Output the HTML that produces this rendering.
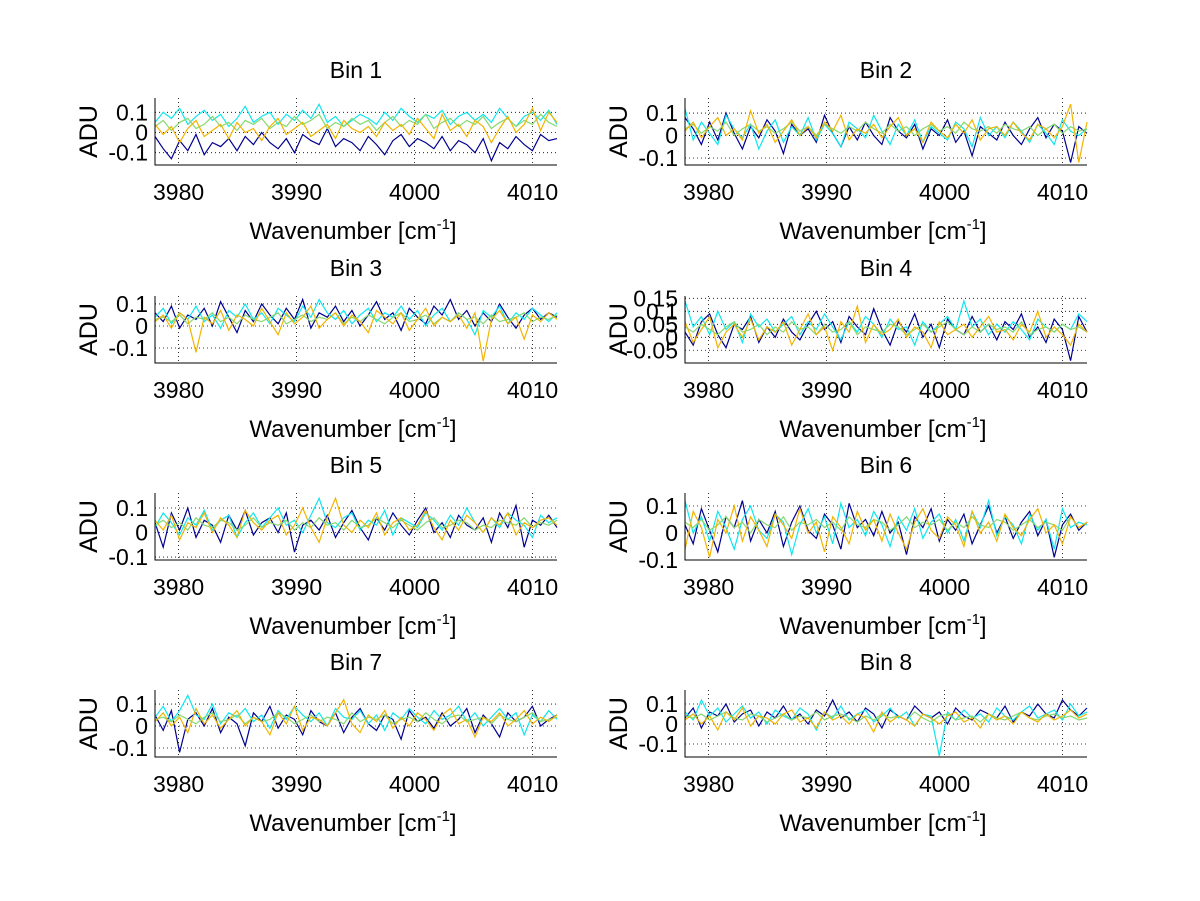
<!DOCTYPE html>
<html><head><meta charset="utf-8"><style>
html,body{margin:0;padding:0;background:#fff;}
svg{display:block;font-family:"Liberation Sans",sans-serif;}
</style></head><body>
<svg id="fig" width="1200" height="901" viewBox="0 0 1200 901" xmlns="http://www.w3.org/2000/svg"></svg>
<script>
const xTicks=[3980,3990,4000,4010];
const seriesNames=['navy','cyan','green','orange'];
const seriesColors=['#000090','#10e6ee','#86d870','#f2b400'];
const bin1Navy=[-2,-8,-13,-4,-9,-1,-11,-5,-7,-3,-9,-2,-6,0,-5,-8,-3,-10,-1,-4,-6,2,-7,-3,-5,-9,-2,-6,-11,-4,-1,-7,-3,-5,-8,-2,-9,-4,-6,-10,-3,-14,-5,-8,-2,-6,-9,-1,-4,-3];
const bin1Cyan=[5,10,7,12,4,8,11,6,9,3,7,13,5,8,10,4,9,6,11,7,14,5,8,3,6,9,7,4,10,6,12,8,5,9,7,11,4,8,10,6,9,5,12,7,3,8,10,6,11,4];
const bin1Green=[3,6,1,5,7,2,4,8,3,5,1,6,4,7,2,5,3,8,4,6,9,2,5,3,7,4,6,1,5,8,3,6,4,9,2,5,7,3,6,4,8,2,5,7,3,6,4,9,5,3];
const bin1Orange=[4,-1,3,-5,2,6,-2,1,4,-3,5,0,2,-4,3,7,-1,2,5,-2,1,4,-3,6,2,0,3,-2,5,1,4,-1,7,2,-3,9,1,4,-2,6,3,-5,2,8,0,4,12,1,10,5];
const bin2Navy=[8,3,-4,6,-2,10,1,-6,4,-1,7,2,-8,5,0,3,-3,9,1,-5,4,-2,6,0,-4,8,2,-1,5,-6,3,0,7,-3,2,-9,4,1,-2,6,0,-4,3,8,-1,5,2,-12,4,1];
const bin2Cyan=[12,-2,6,1,-4,9,3,-1,5,-6,2,7,-3,4,0,8,-2,5,1,-5,6,3,-1,9,2,-4,5,0,7,-3,4,1,-2,6,3,-5,8,0,4,-1,6,2,-3,5,1,-4,7,2,0,3];
const bin2Green=[3,5,1,4,2,6,0,3,5,2,4,1,3,6,2,4,0,5,3,1,4,2,6,3,1,5,2,4,0,3,5,2,4,1,6,3,2,4,1,5,3,2,4,0,3,5,1,4,2,3];
const bin2Orange=[2,6,-1,4,8,0,3,-2,11,1,5,-3,2,7,0,4,-1,6,2,9,-2,3,1,5,-1,4,8,0,3,-3,6,2,-1,5,1,7,-2,3,4,0,6,1,-2,5,3,-1,4,14,-12,6];
const bin3Navy=[6,2,9,-1,5,3,8,0,11,4,-3,7,2,10,5,1,8,3,12,-1,6,4,9,2,7,0,5,11,3,6,-2,8,4,1,9,5,12,3,7,0,6,2,10,4,-1,5,8,3,6,4];
const bin3Cyan=[4,8,1,6,3,9,2,5,-1,7,4,10,3,6,1,8,5,2,9,4,12,6,3,7,1,5,8,2,6,4,9,3,7,0,5,8,2,6,3,-4,7,4,9,1,6,3,8,5,2,6];
const bin3Green=[3,4,2,5,1,4,3,6,2,4,1,5,3,2,4,6,1,3,5,2,4,3,6,1,4,2,5,3,1,4,6,2,3,5,1,4,2,6,3,4,1,5,2,3,4,6,2,4,3,5];
const bin3Orange=[2,5,-1,6,3,-12,4,1,7,-2,5,3,0,8,2,-4,6,1,4,9,-1,3,6,0,5,2,-3,7,4,1,6,-2,3,8,0,4,2,5,-1,6,-16,3,7,1,4,-6,5,2,6,3];
const bin4Navy=[2,-3,6,9,1,-4,5,3,8,-2,4,0,7,2,-1,5,10,3,6,-2,8,4,1,11,3,-3,6,2,9,0,5,-4,7,3,1,8,2,5,-1,6,3,9,0,4,-2,7,3,-9,8,2];
const bin4Cyan=[14,4,8,1,10,3,6,-2,9,4,7,2,5,8,1,6,3,9,4,-1,6,2,8,5,0,7,3,4,-3,6,2,5,8,3,14,4,7,1,5,2,6,3,-1,7,4,2,5,3,9,6];
const bin4Green=[4,2,5,3,1,4,6,2,3,5,1,4,2,6,3,4,1,5,2,3,6,1,4,3,2,5,4,1,3,5,2,4,6,3,1,4,2,5,3,4,2,6,1,3,4,2,5,3,4,2];
const bin4Orange=[6,-2,3,8,-4,2,5,0,7,-1,4,2,6,-3,3,9,1,4,-5,6,2,12,-2,5,1,3,7,0,4,2,-4,6,1,3,5,0,4,8,2,3,-1,5,2,10,0,4,1,-3,5,2];
const bin5Navy=[4,-6,8,1,10,-2,5,3,-4,7,1,9,-1,4,6,0,8,-8,3,5,1,7,-2,4,9,2,-3,6,1,8,3,-1,5,10,0,4,-2,7,3,1,6,-4,8,2,11,-6,5,3,7,2];
const bin5Cyan=[2,8,4,-1,6,3,9,1,5,7,-2,4,8,2,6,10,3,5,0,7,14,4,2,6,8,1,5,3,9,-1,6,4,2,8,5,1,7,3,10,4,0,6,2,8,5,3,-2,7,4,6];
const bin5Green=[3,5,2,4,1,6,3,2,5,4,1,3,6,2,4,3,5,1,4,2,6,3,4,1,5,2,3,6,4,2,5,3,1,4,6,2,3,5,4,1,3,2,5,4,3,6,2,4,3,5];
const bin5Orange=[5,1,7,-3,4,2,8,0,6,3,-2,9,4,1,5,7,-1,3,10,2,-4,6,14,3,0,5,2,8,-1,4,6,1,3,9,2,-3,5,1,7,4,0,6,3,8,-1,4,2,5,6,3];
const bin6Navy=[3,-4,9,1,-7,6,2,12,-3,5,0,8,-5,4,10,1,-2,7,3,-6,11,2,5,-1,8,0,4,-8,6,2,9,-3,5,1,7,-4,3,10,0,6,-2,4,8,-1,5,-9,3,7,1,4];
const bin6Cyan=[12,0,6,-3,8,2,-6,5,10,1,-2,7,4,-8,3,9,0,6,-4,11,2,5,-1,8,3,-5,6,1,9,-2,4,7,0,5,-3,8,2,12,-1,6,3,-4,7,1,5,-6,9,2,4,3];
const bin6Green=[4,2,5,1,3,6,2,4,0,5,3,2,6,1,4,3,5,2,4,1,6,3,2,5,4,1,3,6,2,4,3,5,1,4,2,6,3,2,5,4,1,3,5,2,4,3,1,6,2,4];
const bin6Orange=[-6,8,2,-9,5,0,10,-3,6,1,-5,7,3,-2,9,0,4,-7,6,2,-4,8,1,5,-3,7,0,-6,4,9,1,-2,6,3,-5,8,0,4,-3,7,2,-1,5,9,0,3,-4,6,2,4];
const bin7Navy=[5,-2,7,-12,3,6,0,8,-3,4,1,-9,6,2,9,-1,5,3,-4,7,2,0,6,-3,4,8,1,-2,5,3,-6,7,2,4,-1,6,0,3,8,-3,5,1,-5,6,2,4,9,0,3,5];
const bin7Cyan=[4,9,2,7,14,5,3,10,1,6,4,8,2,5,-1,7,3,9,5,2,6,0,8,4,3,7,1,5,-2,6,3,8,4,1,7,3,5,9,2,6,0,4,8,3,6,-4,5,2,7,3];
const bin7Green=[3,4,2,5,3,1,4,6,2,3,5,1,4,2,3,6,4,1,3,5,2,4,3,1,6,2,4,3,5,1,3,4,2,6,3,1,4,5,2,3,4,1,5,3,2,4,6,2,3,4];
const bin7Orange=[2,6,0,4,-3,8,1,5,-1,3,7,0,4,2,-4,6,1,9,-2,4,3,0,6,12,1,-3,5,2,7,-1,4,0,6,3,-2,5,8,1,3,-5,4,2,6,0,3,7,1,4,2,5];
const bin8Navy=[3,8,-2,6,4,10,1,5,7,-1,6,3,9,2,5,0,7,4,12,3,6,1,8,5,-2,7,4,2,9,5,3,6,0,8,4,2,7,5,3,9,1,6,4,10,5,3,12,7,4,8];
const bin8Cyan=[6,2,12,4,8,1,5,9,3,6,0,7,4,2,8,5,-3,6,3,9,2,5,7,1,4,8,3,6,-1,5,4,-16,6,2,7,3,5,1,8,4,2,6,9,3,5,7,2,10,4,6];
const bin8Green=[4,3,5,2,4,6,3,2,5,4,1,3,5,2,4,3,6,2,4,5,3,1,4,2,5,3,4,2,6,3,1,4,5,2,3,4,1,5,3,2,4,6,3,2,4,5,3,4,2,3];
const bin8Orange=[2,5,0,4,-3,6,2,8,-1,4,3,0,5,7,1,3,-2,6,2,4,0,5,3,-4,6,1,4,2,-1,5,3,0,4,6,1,3,-2,5,2,4,0,6,3,1,5,2,4,7,3,5];
const binSeries=[[bin1Navy,bin1Cyan,bin1Green,bin1Orange],[bin2Navy,bin2Cyan,bin2Green,bin2Orange],[bin3Navy,bin3Cyan,bin3Green,bin3Orange],[bin4Navy,bin4Cyan,bin4Green,bin4Orange],[bin5Navy,bin5Cyan,bin5Green,bin5Orange],[bin6Navy,bin6Cyan,bin6Green,bin6Orange],[bin7Navy,bin7Cyan,bin7Green,bin7Orange],[bin8Navy,bin8Cyan,bin8Green,bin8Orange]];
const yMins=[-0.161,-0.131,-0.168,-0.099,-0.112,-0.1,-0.141,-0.165];
const yMaxs=[0.171,0.167,0.136,0.159,0.161,0.148,0.164,0.17];
const yTickSets=[[-0.1,0,0.1],[-0.1,0,0.1],[-0.1,0,0.1],[-0.05,0,0.05,0.1,0.15],[-0.1,0,0.1],[-0.1,0,0.1],[-0.1,0,0.1],[-0.1,0,0.1]];
const yTickLabels=[['-0.1','0','0.1'],['-0.1','0','0.1'],['-0.1','0','0.1'],['-0.05','0','0.05','0.1','0.15'],['-0.1','0','0.1'],['-0.1','0','0.1'],['-0.1','0','0.1'],['-0.1','0','0.1']];
const xMin=3978, xMax=4012.07;

const NS='http://www.w3.org/2000/svg';
const svg=document.getElementById('fig');
function mk(tag,attrs,parent){const e=document.createElementNS(NS,tag);for(const k in attrs)e.setAttribute(k,attrs[k]);(parent||svg).appendChild(e);return e;}
const colX=[155,685], W=402, rowY=[98,296,493,690], H=67;
for(let b=0;b<8;b++){
  const L=colX[b%2], T=rowY[Math.floor(b/2)];
  const g=mk('g',{});
  
  
  const sx=v=>L+(v-xMin)/(xMax-xMin)*W;
  const sy=v=>T+H-(v-yMins[b])/(yMaxs[b]-yMins[b])*H;
  const title=mk('text',{x:L+W/2,y:T-20,'font-size':23,'text-anchor':'middle',fill:'#000'},g);
  title.textContent='Bin '+(b+1);
  
  
  xTicks.forEach(t=>{const l=mk('line',{x1:sx(t),x2:sx(t),y1:T,y2:T+H,stroke:'#000','stroke-width':0.8,'stroke-dasharray':'1,3'},g);
    });
  yTickSets[b].forEach(t=>{const l=mk('line',{x1:L,x2:L+W,y1:sy(t),y2:sy(t),stroke:'#000','stroke-width':0.8,'stroke-dasharray':'1,3'},g);
    });
  const defs=binSeries[b];
  defs.forEach((arr,si)=>{
    const n=arr.length;
    const pts=arr.map((v,i)=>sx(xMin+(xMax-xMin)*i/(n-1)).toFixed(1)+','+sy(v/100).toFixed(1)).join(' ');
    const p=mk('polyline',{points:pts,fill:'none',stroke:seriesColors[si],'stroke-width':1.2},g);
    
    
  });
  const ax=mk('path',{d:`M${L},${T}V${T+H}H${L+W}`,stroke:'#000','stroke-width':1,fill:'none'},g);
  
  
  xTicks.forEach(t=>{const tx=mk('text',{x:sx(t),y:T+H+35,'font-size':23,'text-anchor':'middle',fill:'#000'},g);tx.textContent=t;
    });
  yTickSets[b].forEach((t,i)=>{const tx=mk('text',{x:L-7,y:sy(t)+8,'font-size':23,'text-anchor':'end',fill:'#000'},g);tx.textContent=yTickLabels[b][i];
    });
  const xl=mk('text',{x:L+W/2-3,y:T+H+74,'font-size':24,'text-anchor':'middle',fill:'#000'},g);
  xl.innerHTML='Wavenumber [cm<tspan font-size="15" dy="-10">-1</tspan><tspan dy="10">]</tspan>';
  
  
  const cy=T+H/2, cx=L-67;
  const yl=mk('text',{x:cx,y:cy+9,'font-size':25,'text-anchor':'middle',fill:'#000',transform:`rotate(-90 ${cx} ${cy})`},g);
  yl.textContent='ADU';
  
  
}
</script>
</body></html>
